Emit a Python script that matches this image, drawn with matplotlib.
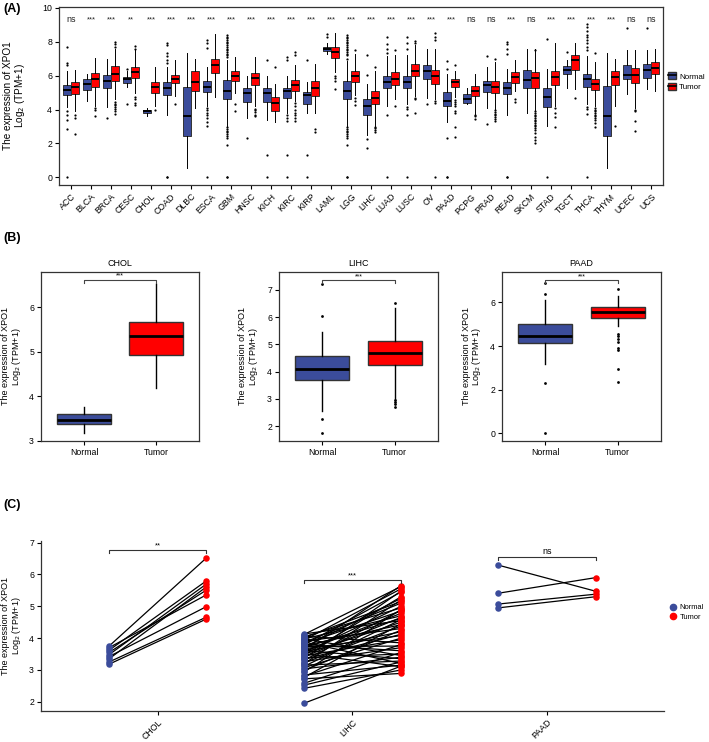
import matplotlib
matplotlib.use("Agg")
import matplotlib.pyplot as plt
from matplotlib.patches import Patch
from matplotlib.lines import Line2D

plt.rcParams['font.family'] = ['Liberation Sans', 'DejaVu Sans']

BLUE = '#3b4c9b'
RED = '#ff0000'
EDGE = '#333333'
YLAB = 'The expression of XPO1\nLog$_2$ (TPM+1)'

# ---------------- panel A data ----------------
cats = ['ACC', 'BLCA', 'BRCA', 'CESC', 'CHOL', 'COAD', 'DLBC', 'ESCA', 'GBM', 'HNSC',
        'KICH', 'KIRC', 'KIRP', 'LAML', 'LGG', 'LIHC', 'LUAD', 'LUSC', 'OV', 'PAAD',
        'PCPG', 'PRAD', 'READ', 'SKCM', 'STAD', 'TGCT', 'THCA', 'THYM', 'UCEC', 'UCS']
signif = ['ns', '***', '***', '**', '***', '***', '***', '***', '***', '***',
          '***', '***', '***', '***', '***', '***', '***', '***', '***', '***',
          'ns', 'ns', '***', 'ns', '***', '***', '***', '***', 'ns', 'ns']

normal_q1 = [4.85, 5.15, 5.25, 5.55, 3.8, 4.85, 2.45, 5.05, 4.6, 4.45, 4.45, 4.7, 4.3, 7.45, 4.6,
             3.7, 5.3, 5.3, 5.8, 4.2, 4.4, 5.05, 4.9, 5.25, 4.15, 6.1, 5.35, 2.45, 5.8, 5.85]
normal_med = [5.15, 5.5, 5.7, 5.8, 3.9, 5.3, 3.6, 5.35, 5.1, 4.95, 4.95, 5.1, 4.85, 7.55, 5.1,
              4.2, 5.6, 5.6, 6.25, 4.5, 4.6, 5.45, 5.3, 5.75, 4.75, 6.35, 5.8, 3.6, 6.05, 6.35]
normal_q3 = [5.45, 5.8, 6.05, 5.9, 4.0, 5.65, 5.35, 5.7, 5.75, 5.3, 5.3, 5.3, 5.05, 7.7, 5.7,
             4.6, 5.95, 5.95, 6.65, 5.05, 4.9, 5.7, 5.65, 6.35, 5.25, 6.55, 6.1, 5.4, 6.6, 6.7]
normal_lo = [4.15, 4.5, 4.15, 5.35, 3.6, 3.7, 0.55, 4.2, 3.05, 3.5, 3.4, 3.8, 3.8, 7.3, 3.05,
             2.5, 4.2, 4.3, 4.7, 3.25, 4.3, 4.1, 3.7, 3.8, 3.05, 5.3, 4.3, 0.55, 4.9, 5.2]
normal_hi = [6.3, 6.1, 7.0, 6.3, 4.1, 6.5, 7.35, 6.5, 6.95, 5.95, 5.95, 5.95, 5.65, 7.95, 6.85,
             5.5, 7.15, 7.2, 7.6, 6.1, 5.3, 6.5, 6.4, 7.6, 6.4, 6.9, 7.15, 7.35, 7.5, 7.5]
normal_fliers = [
    [7.7, 6.75, 6.65, 3.9, 3.65, 3.4, 2.85, 0],
    [],
    [3.5],
    [6.4, 4.35],
    [],
    [7.9, 7.8, 7.35, 7.15, 6.9, 6.75, 0, 0],
    [],
    [8.1, 7.9, 7.65, 4.1, 3.95, 3.8, 3.65, 3.5, 3.25, 3.05, 0],
    [8.4, 8.3, 8.2, 8.1, 8.0, 7.9, 7.8, 7.7, 7.6, 7.5, 7.4, 7.3, 7.2, 7.1,
     2.95, 2.85, 2.75, 2.65, 2.55, 2.45, 2.35, 1.9, 0, 0],
    [2.3],
    [6.95, 1.3, 0],
    [7.1, 6.95, 3.7, 3.5, 3.35, 1.3, 0],
    [6.9, 1.3, 0],
    [8.45, 8.3],
    [8.4, 8.3, 8.2, 8.1, 8.0, 7.9, 7.8, 7.7, 7.6, 7.5, 7.4, 7.3, 7.2, 7.0,
     2.95, 2.85, 2.75, 2.65, 2.55, 2.45, 2.35, 1.9, 0, 0],
    [7.2, 6.05, 2.25, 1.75],
    [8.25, 7.85, 7.6, 7.35, 3.7, 0],
    [8.25, 7.9, 7.6, 4.15, 4.05, 3.7, 0],
    [4.35],
    [6.85, 6.4, 2.3, 0, 0],
    [],
    [7.15, 3.15],
    [8.0, 7.85, 7.55, 7.3, 0, 0],
    [],
    [8.15, 0],
    [7.4],
    [9.05, 8.85, 8.65, 8.4, 8.25, 8.1, 7.9, 7.7, 7.5, 4.15, 4.05, 3.75, 0],
    [],
    [8.8],
    [8.8],
]

tumor_q1 = [4.9, 5.35, 5.7, 5.85, 5.0, 5.55, 5.1, 6.15, 5.7, 5.45, 3.9, 5.1, 4.8, 7.05, 5.65,
            4.3, 5.45, 5.95, 5.5, 5.35, 4.8, 5.0, 5.55, 5.3, 5.45, 6.35, 5.15, 5.45, 5.55, 6.1]
tumor_med = [5.35, 5.8, 6.1, 6.2, 5.35, 5.8, 5.65, 6.65, 6.0, 5.85, 4.4, 5.45, 5.25, 7.4, 5.95,
             4.7, 5.8, 6.3, 6.0, 5.6, 5.1, 5.35, 5.9, 5.85, 5.9, 6.9, 5.5, 5.9, 6.05, 6.45]
tumor_q3 = [5.65, 6.15, 6.55, 6.5, 5.65, 6.05, 6.3, 7.0, 6.3, 6.15, 4.75, 5.75, 5.7, 7.7, 6.25,
            5.1, 6.2, 6.7, 6.35, 5.8, 5.4, 5.7, 6.2, 6.2, 6.3, 7.2, 5.8, 6.3, 6.45, 6.8]
tumor_lo = [3.9, 4.2, 4.6, 4.95, 4.2, 4.8, 4.1, 4.75, 5.0, 4.2, 3.25, 4.5, 3.8, 6.2, 4.85,
            3.0, 4.6, 4.8, 4.6, 4.75, 3.75, 4.0, 5.1, 4.0, 4.2, 5.2, 4.2, 4.2, 4.1, 5.1]
tumor_hi = [6.35, 7.05, 7.55, 7.55, 6.5, 6.95, 7.0, 8.45, 7.1, 7.1, 5.5, 6.6, 6.7, 8.5, 7.3,
            6.3, 7.2, 7.8, 7.6, 6.3, 6.1, 6.8, 6.9, 7.6, 7.9, 7.95, 6.8, 7.0, 7.5, 7.6]
tumor_fliers = [
    [3.65, 3.5, 2.55],
    [4.1, 4.0, 3.6],
    [8.0, 7.85, 7.7, 4.45, 4.35, 4.25, 4.15, 4.05, 3.9, 3.75],
    [7.75, 7.6, 4.75, 4.6, 4.4, 4.25],
    [4.0],
    [4.35],
    [],
    [],
    [4.35, 3.9],
    [4.05, 3.95, 3.85, 3.7, 3.6],
    [6.5],
    [7.4, 7.2, 4.4, 4.2, 4.0, 3.8, 3.65, 3.5, 3.35],
    [2.85, 2.7],
    [6.0, 5.85, 5.7, 5.2],
    [7.5, 4.7, 4.5, 4.25],
    [6.5, 2.95, 2.9, 2.8, 2.7],
    [7.5, 4.2],
    [8.05, 7.9, 4.7, 4.6, 3.8],
    [8.5, 8.3, 8.1, 4.5, 4.4, 0],
    [6.6, 4.55, 4.45, 4.3, 4.2, 3.9, 3.8, 2.95, 2.4],
    [3.7, 3.6, 3.45],
    [7.0, 3.95, 3.85, 3.75, 3.65, 3.55, 3.45, 3.35],
    [4.6, 4.45],
    [7.5, 3.9, 3.8, 3.7, 3.6, 3.5, 3.4, 3.3, 3.2, 3.1, 3.0, 2.9, 2.8, 2.6, 2.4, 2.2, 2.0],
    [4.1, 3.8, 3.55, 2.95],
    [4.7],
    [7.35, 4.1, 4.0, 3.9, 3.8, 3.7, 3.6, 3.5, 3.4, 3.2, 2.95],
    [3.05],
    [4.0, 3.9, 3.35, 2.75],
    [],
]

# ---------------- panel B data ----------------
b_cats = ['CHOL', 'LIHC', 'PAAD']
b_n_q1 = [3.38, 3.69, 4.12]
b_n_med = [3.47, 4.1, 4.47]
b_n_q3 = [3.59, 4.56, 4.99]
b_n_lo = [3.18, 2.55, 3.18]
b_n_hi = [3.75, 5.47, 6.12]
b_n_fliers = [[], [7.22, 6.05, 2.27, 1.75], [6.87, 6.38, 2.29, 0.0]]
b_t_q1 = [4.93, 4.25, 5.3]
b_t_med = [5.34, 4.67, 5.56]
b_t_q3 = [5.66, 5.12, 5.8]
b_t_lo = [4.18, 2.98, 4.9]
b_t_hi = [6.53, 6.33, 6.3]
b_t_fliers = [[], [6.51, 2.95, 2.9, 2.8, 2.7],
              [6.6, 4.55, 4.45, 4.3, 4.2, 3.9, 3.8, 2.93, 2.37]]
b_bracket = [6.62, 7.37, 7.02]
b_ylim = [(2.99, 6.79), (1.45, 7.66), (-0.35, 7.39)]
b_yticks = [[3, 4, 5, 6], [2, 3, 4, 5, 6, 7], [0, 2, 4, 6]]

# ---------------- panel C data (paired samples) ----------------
c_cats = ['CHOL', 'LIHC', 'PAAD']
chol_normal = [3.75, 3.70, 3.62, 3.55, 3.48, 3.42, 3.35, 3.25, 3.18]
chol_tumor = [6.52, 5.36, 5.80, 5.51, 5.70, 4.99, 5.61, 4.66, 4.60]
lihc_normal = [4.13, 4.11, 4.06, 4.04, 4.01, 3.98, 3.97, 3.93, 3.90, 3.88,
               3.86, 3.83, 3.80, 3.79, 3.76, 3.73, 3.71, 3.70, 3.66, 3.64,
               3.61, 3.58, 3.57, 3.54, 3.51, 3.49, 3.46, 3.44, 3.41, 3.38,
               3.36, 3.33, 3.30, 3.26, 3.22, 3.19, 3.15, 3.11, 3.07, 3.03,
               2.98, 2.93, 2.84, 2.80, 2.76, 2.72, 2.58, 2.52, 2.42, 1.95]
lihc_tumor = [4.55, 5.62, 3.85, 4.95, 5.15, 3.45, 4.70, 5.55, 4.30, 3.20,
              5.10, 4.85, 3.60, 5.45, 4.42, 3.75, 5.25, 4.62, 4.08, 5.65,
              3.35, 4.78, 4.20, 5.00, 3.10, 4.50, 5.30, 3.95, 4.65, 3.50,
              5.48, 4.12, 4.88, 3.70, 4.38, 5.20, 3.28, 4.58, 4.00, 3.40,
              4.25, 4.90, 3.15, 3.80, 4.45, 2.89, 3.55, 3.25, 3.00, 3.12]
paad_normal = [6.29, 5.41, 5.07, 4.95]
paad_tumor = [5.47, 5.90, 5.38, 5.30]
c_signif = ['**', '***', 'ns']
c_bracket = [6.76, 5.82, 6.55]


def make_stats(q1, med, q3, lo, hi, fl):
    return [dict(q1=a, med=b, q3=c, whislo=d, whishi=e, fliers=f)
            for a, b, c, d, e, f in zip(q1, med, q3, lo, hi, fl)]


def draw_boxes(ax, stats, pos, width, color, lw, mlw, ms):
    ax.bxp(stats, positions=pos, widths=width, patch_artist=True, showcaps=False,
           boxprops=dict(facecolor=color, edgecolor=EDGE, linewidth=lw),
           medianprops=dict(color='black', linewidth=mlw),
           whiskerprops=dict(color='black', linewidth=lw),
           flierprops=dict(marker='o', markersize=ms, markerfacecolor='black',
                           markeredgecolor='none'))


fig = plt.figure(figsize=(7.09, 7.42), dpi=100)

# ---------------- (A) ----------------
axA = fig.add_axes([0.0832, 0.7507, 0.8519, 0.2399])
xs = list(range(len(cats)))
draw_boxes(axA, make_stats(normal_q1, normal_med, normal_q3, normal_lo, normal_hi, normal_fliers),
           [x - 0.21 for x in xs], 0.4, BLUE, 0.7, 1.4, 1.6)
draw_boxes(axA, make_stats(tumor_q1, tumor_med, tumor_q3, tumor_lo, tumor_hi, tumor_fliers),
           [x + 0.21 for x in xs], 0.4, RED, 0.7, 1.4, 1.6)
for x, s in zip(xs, signif):
    axA.text(x, 9.3, s, ha='center', va='center', fontsize=6.5 if s == 'ns' else 5.5,
             color='#222222')
axA.set_xlim(-0.6, len(cats) - 0.4)
axA.set_ylim(-0.45, 10.05)
axA.set_yticks([0, 2, 4, 6, 8, 10])
axA.set_xticks(xs)
axA.set_xticklabels(cats, rotation=45, ha='right', rotation_mode='anchor')
axA.set_ylabel(YLAB, fontsize=7.2, linespacing=1.0)
axA.yaxis.set_label_coords(-0.053, 0.5)
handles = [(Patch(facecolor=BLUE, edgecolor=EDGE), Line2D([], [], color='black', lw=1.2)),
           (Patch(facecolor=RED, edgecolor=EDGE), Line2D([], [], color='black', lw=1.2))]
axA.legend(handles, ['Normal', 'Tumor'], loc='center left', bbox_to_anchor=(1.0, 0.58),
           frameon=False, fontsize=5.8, handlelength=1.0, handleheight=0.9,
           handletextpad=0.4, borderaxespad=0.2, labelspacing=0.3)

# ---------------- (B) ----------------
b_rects = [[0.0578, 0.4057, 0.2229, 0.2277],
           [0.3935, 0.4057, 0.2243, 0.2277],
           [0.708, 0.4057, 0.2243, 0.2277]]
b_labx = [-0.115, -0.12, -0.118]
for i, rect in enumerate(b_rects):
    ax = fig.add_axes(rect)
    draw_boxes(ax, make_stats([b_n_q1[i]], [b_n_med[i]], [b_n_q3[i]], [b_n_lo[i]],
                              [b_n_hi[i]], [b_n_fliers[i]]),
               [1], 0.75, BLUE, 1.0, 2.0, 2.0)
    draw_boxes(ax, make_stats([b_t_q1[i]], [b_t_med[i]], [b_t_q3[i]], [b_t_lo[i]],
                              [b_t_hi[i]], [b_t_fliers[i]]),
               [2], 0.75, RED, 1.0, 2.0, 2.0)
    lo, hi = b_ylim[i]
    yb = b_bracket[i]
    leg = (hi - lo) * 0.02
    ax.plot([1, 1, 2, 2], [yb - leg, yb, yb, yb - leg], color='#444444', lw=0.8)
    ax.text(1.5, yb, '***', ha='center', va='bottom', fontsize=5)
    ax.set_xlim(0.4, 2.6)
    ax.set_ylim(lo, hi)
    ax.set_yticks(b_yticks[i])
    ax.set_xticks([1, 2])
    ax.set_xticklabels(['Normal', 'Tumor'])
    ax.set_title(b_cats[i], fontsize=6.5, pad=4)
    ax.set_ylabel(YLAB, fontsize=6.5, linespacing=0.95)
    ax.yaxis.set_label_coords(b_labx[i], 0.5)

# ---------------- (C) ----------------
axC = fig.add_axes([0.0578, 0.0418, 0.8787, 0.2291])
pairs = [(chol_normal, chol_tumor), (lihc_normal, lihc_tumor), (paad_normal, paad_tumor)]
for i, (nv, tv) in enumerate(pairs):
    for a, b in zip(nv, tv):
        axC.plot([i - 0.25, i + 0.25], [a, b], color='black', lw=0.9, zorder=1)
    axC.scatter([i - 0.25] * len(nv), nv, s=22, color=BLUE, zorder=2, linewidths=0)
    axC.scatter([i + 0.25] * len(tv), tv, s=22, color=RED, zorder=2, linewidths=0)
    yb = c_bracket[i]
    axC.plot([i - 0.25, i - 0.25, i + 0.25, i + 0.25], [yb - 0.1, yb, yb, yb - 0.1],
             color='#333333', lw=0.8)
    axC.text(i, yb + 0.02, c_signif[i], ha='center', va='bottom',
             fontsize=6.5 if c_signif[i] == 'ns' else 5.5)
axC.set_xlim(-0.6, 2.6)
axC.set_ylim(1.71, 7.05)
axC.set_yticks([2, 3, 4, 5, 6, 7])
axC.set_xticks([0, 1, 2])
axC.set_xticklabels(c_cats, rotation=45, ha='right', rotation_mode='anchor')
axC.spines['top'].set_visible(False)
axC.spines['right'].set_visible(False)
axC.set_ylabel(YLAB, fontsize=6.5, linespacing=0.95)
axC.yaxis.set_label_coords(-0.029, 0.5)
c_handles = [Line2D([], [], marker='o', ls='none', color=BLUE, markersize=4.5),
             Line2D([], [], marker='o', ls='none', color=RED, markersize=4.5)]
axC.legend(c_handles, ['Normal', 'Tumor'], loc='center left', bbox_to_anchor=(1.0, 0.58),
           frameon=False, fontsize=5.4, handlelength=1.0, handletextpad=0.4,
           borderaxespad=0.3, labelspacing=0.3)

for ax in fig.axes:
    ax.tick_params(labelsize=6.3, length=3, width=0.8, colors='black', pad=2)
    for sp in ax.spines.values():
        sp.set_linewidth(0.9)
        sp.set_color('#333333')

fig.text(0.005, 1 - 9 / 742, '(A)', fontsize=9, fontweight='bold', va='center')
fig.text(0.005, 1 - 238 / 742, '(B)', fontsize=9, fontweight='bold', va='center')
fig.text(0.005, 1 - 505 / 742, '(C)', fontsize=9, fontweight='bold', va='center')

fig.savefig('out.png', dpi=100)
